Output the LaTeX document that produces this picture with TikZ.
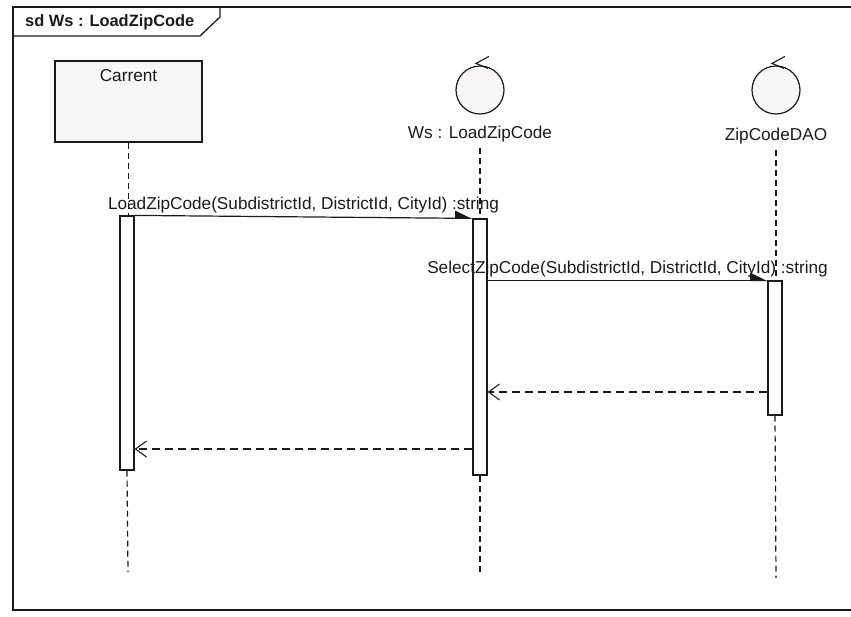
\documentclass[tikz,border=0pt]{standalone}
\usepackage{fontspec}
\setmainfont{Liberation Sans}
\usetikzlibrary{arrows.meta,positioning}
\definecolor{lineblk}{HTML}{1A1A1A}
\definecolor{headfill}{HTML}{F8F6F7}
\tikzset{
  lbl/.style={font=\fontsize{17.2}{19}\selectfont,text=lineblk,inner sep=0pt},
  headbox/.style={draw=lineblk,line width=1.2pt,fill=headfill,minimum width=147pt,minimum height=81pt,inner sep=0pt},
  ctrl/.style={draw=lineblk,line width=1.2pt,fill=headfill,circle,minimum size=48pt,inner sep=0pt},
  act/.style={draw=lineblk,line width=1.2pt,fill=white,minimum width=14pt,inner sep=0pt},
  life/.style={lineblk,line width=1.2pt,dash pattern=on 6pt off 4pt},
  msg/.style={-{Triangle[harpoon,length=16pt,width=15pt]},lineblk,line width=1.2pt},
  ret/.style={-{Straight Barb[length=11pt,width=16pt]},lineblk,line width=1.1pt,dash pattern=on 8pt off 5pt}
}

\begin{document}
\begin{tikzpicture}[x=1pt,y=-1pt]
\path[use as bounding box] (0,0) rectangle (851,616);
\clip (0,0) rectangle (851,616);
% frame and tab
\draw[lineblk,line width=1.3pt] (860,7) -- (13,7) -- (13,610) -- (860,610);
\draw[lineblk,line width=1.3pt] (13,36) -- (200,36) -- (220,17) -- (220,7);
\node[lbl,font=\bfseries\fontsize{16.4}{18}\selectfont,anchor=west] (ttl) at (25,22) {sd Ws : LoadZipCode};
% heads
\node[headbox] (car) at (128.5,101.5) {};
\node[lbl,below=9pt of car.north] (carl) {Carrent};
\node[ctrl] (wsc) at (480,90) {};
\draw[lineblk,line width=1.1pt] (wsc.north) ++(9,-9) -- ++(-13,7) -- ++(12,5);
\node[lbl,below=11pt of wsc] (wsl) {Ws : LoadZipCode};
\node[ctrl] (dao) at (776,90) {};
\draw[lineblk,line width=1.1pt] (dao.north) ++(9,-9) -- ++(-13,7) -- ++(12,5);
\node[lbl,below=13pt of dao] (daol) {ZipCodeDAO};
% activations
\coordinate (carEnd) at (128,572);
\coordinate (wsEnd) at (480,575);
\coordinate (daoEnd) at (776,578);
\node[act,minimum height=254pt] (actC) at (127,343) {};
\node[act,minimum height=256pt] (actW) at (480,347) {};
\node[act,minimum height=134pt] (actD) at (775,348) {};
\draw[life] (car.south) -- (car.south |- actC.north);
\draw[life] (actC.south) -- (carEnd);
\draw[life] (wsl.south) ++(0,6) -- (wsl.south |- actW.north);
\draw[life] (actW.south) -- (wsEnd);
\draw[life] (daol.south) ++(0,6) -- (daol.south |- actD.north);
\draw[life] (actD.south) -- (daoEnd);
% messages
\draw[msg] (actC.north east) -- (actW.north west)
  node[lbl,midway,above=3pt] {LoadZipCode(SubdistrictId, DistrictId, CityId) :string};
\draw[msg] (actW.east |- actD.north) -- (actD.north west)
  node[lbl,midway,above=3pt] {SelectZipCode(SubdistrictId, DistrictId, CityId) :string};
\coordinate (r1) at (0,392);
\coordinate (r2) at (0,449);
\draw[ret] (actD.west |- r1) -- (actW.east |- r1);
\draw[ret] (actW.west |- r2) -- (actC.east |- r2);
\end{tikzpicture}
\end{document}
